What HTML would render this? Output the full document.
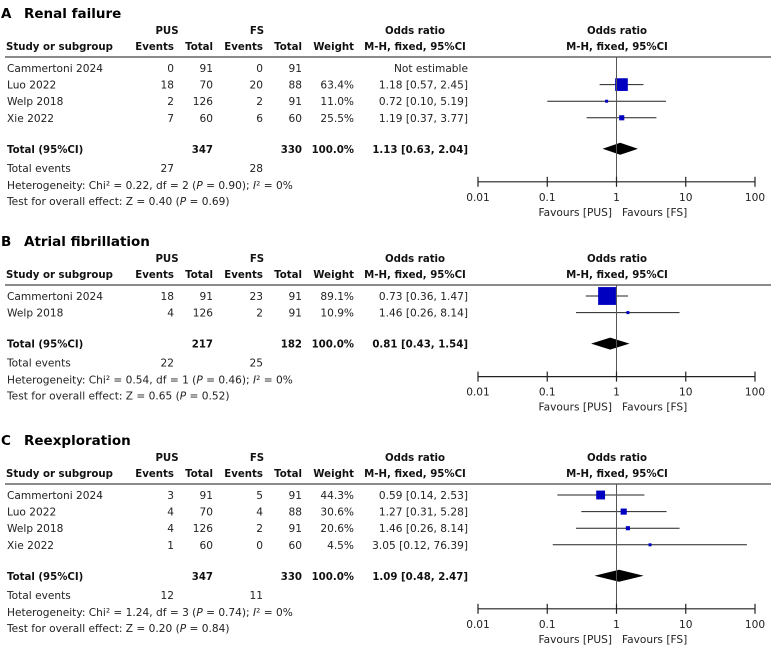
<!DOCTYPE html>
<html><head><meta charset="utf-8"><style>
html,body{margin:0;padding:0;background:#fff}
svg{display:block}
text{font-family:"DejaVu Sans","Liberation Sans",sans-serif;font-size:10.6px;fill:#222}
.b{font-weight:bold;fill:#111;font-size:10.2px}
.t{font-weight:bold;font-size:13.5px;fill:#000}
</style></head><body>
<svg id="fp" width="771" height="651" viewBox="0 0 771 651" xmlns="http://www.w3.org/2000/svg"></svg>
<script>
// ---- Data ----
const panelLetters = ["A","B","C"];
const panelTitles = ["Renal failure","Atrial fibrillation","Reexploration"];
const studiesA = ["Cammertoni 2024","Luo 2022","Welp 2018","Xie 2022"];
const pusEventsA = [0,18,2,7];
const pusTotalA = [91,70,126,60];
const fsEventsA = [0,20,2,6];
const fsTotalA = [91,88,91,60];
const weightsA = [null,63.4,11.0,25.5];
const orA = [null,1.18,0.72,1.19];
const loA = [null,0.57,0.10,0.37];
const hiA = [null,2.45,5.19,3.77];
const totalA = {pus:347, fs:330, or:1.13, lo:0.63, hi:2.04, pusEv:27, fsEv:28, chi:"0.22", df:2, p:"0.90", z:"0.40", pz:"0.69"};

const studiesB = ["Cammertoni 2024","Welp 2018"];
const pusEventsB = [18,4];
const pusTotalB = [91,126];
const fsEventsB = [23,2];
const fsTotalB = [91,91];
const weightsB = [89.1,10.9];
const orB = [0.73,1.46];
const loB = [0.36,0.26];
const hiB = [1.47,8.14];
const totalB = {pus:217, fs:182, or:0.81, lo:0.43, hi:1.54, pusEv:22, fsEv:25, chi:"0.54", df:1, p:"0.46", z:"0.65", pz:"0.52"};

const studiesC = ["Cammertoni 2024","Luo 2022","Welp 2018","Xie 2022"];
const pusEventsC = [3,4,4,1];
const pusTotalC = [91,70,126,60];
const fsEventsC = [5,4,2,0];
const fsTotalC = [91,88,91,60];
const weightsC = [44.3,30.6,20.6,4.5];
const orC = [0.59,1.27,1.46,3.05];
const loC = [0.14,0.31,0.26,0.12];
const hiC = [2.53,5.28,8.14,76.39];
const totalC = {pus:347, fs:330, or:1.09, lo:0.48, hi:2.47, pusEv:12, fsEv:11, chi:"1.24", df:3, p:"0.74", z:"0.20", pz:"0.84"};

const tickValues = [0.01,0.1,1,10,100];
const tickLabels = ["0.01","0.1","1","10","100"];

// ---- Drawing ----
const svg = document.getElementById('fp');
const NS = "http://www.w3.org/2000/svg";
const X0 = 478, DEC = 69.25;
function xs(v){ return X0 + (Math.log10(v) + 2) * DEC; }
function el(tag, attrs, parent){
  const e = document.createElementNS(NS, tag);
  for (const k in attrs) e.setAttribute(k, attrs[k]);
  (parent||svg).appendChild(e); return e;
}
function txt(g, x, y, s, anchor, cls, name){
  const e = el('text', {x:x, y:y, 'text-anchor':anchor||'start'}, g);
  if (cls) e.setAttribute('class', cls);
  
  
  e.innerHTML = s; return e;
}
const fmt2 = v => v.toFixed(2);

function panel(base, idx, studies, pe, pt, fe, ft, w, or, lo, hi, tot){
  const g = el('g', {});
  
  
  txt(g, 1, base+18, panelLetters[idx], 'start', 't', 'panel-letter');
  txt(g, 24, base+18, panelTitles[idx], 'start', 't', 'panel-title');
  txt(g, 167, base+34, 'PUS', 'middle', 'b', 'group-header-pus');
  txt(g, 257, base+34, 'FS', 'middle', 'b', 'group-header-fs');
  txt(g, 415, base+34, 'Odds ratio', 'middle', 'b', 'or-header');
  txt(g, 617, base+34, 'Odds ratio', 'middle', 'b', 'plot-header');
  const hy = base+50;
  txt(g, 6, hy, 'Study or subgroup', 'start', 'b', 'study-header');
  txt(g, 174, hy, 'Events', 'end', 'b', 'pus-events-header');
  txt(g, 213, hy, 'Total', 'end', 'b', 'pus-total-header');
  txt(g, 263, hy, 'Events', 'end', 'b', 'fs-events-header');
  txt(g, 302, hy, 'Total', 'end', 'b', 'fs-total-header');
  txt(g, 354, hy, 'Weight', 'end', 'b', 'weight-header');
  txt(g, 415, hy, 'M-H, fixed, 95%CI', 'middle', 'b', 'or-method-header');
  txt(g, 617, hy, 'M-H, fixed, 95%CI', 'middle', 'b', 'plot-method-header');
  const sep = el('line', {x1:5, x2:771, y1:base+57, y2:base+57, stroke:'#444', 'stroke-width':1.3}, g);
  
  
  studies.forEach((s, i) => {
    const cy = base + 68 + i*16.6;
    const ty = cy + 4;
    txt(g, 7, ty, s, 'start', null, 'study-name');
    txt(g, 174, ty, pe[i], 'end', null, 'pus-events');
    txt(g, 213, ty, pt[i], 'end', null, 'pus-total');
    txt(g, 263, ty, fe[i], 'end', null, 'fs-events');
    txt(g, 302, ty, ft[i], 'end', null, 'fs-total');
    if (w[i] != null){
      txt(g, 354, ty, w[i].toFixed(1) + '%', 'end', null, 'weight');
      txt(g, 468, ty, fmt2(or[i]) + ' [' + fmt2(lo[i]) + ', ' + fmt2(hi[i]) + ']', 'end', null, 'odds-ratio-ci');
      const ci = el('line', {x1:xs(lo[i]), x2:xs(hi[i]), y1:cy, y2:cy, stroke:'#222', 'stroke-width':1}, g);
      
      
      const sz = Math.max(3, 0.2*w[i]);
      const sq = el('rect', {x:xs(or[i])-sz/2, y:cy-sz/2, width:sz, height:sz, fill:'#0000c0'}, g);
      
      
    } else {
      txt(g, 468, ty, 'Not estimable', 'end', null, 'odds-ratio-ci');
    }
  });
  const ny = studies.length;
  const ty = base + 68 + (ny-1)*16.6 + 31;
  const tyT = ty + 4;
  txt(g, 7, tyT, 'Total (95%CI)', 'start', 'b', 'total-label');
  txt(g, 213, tyT, tot.pus, 'end', 'b', 'pus-total-sum');
  txt(g, 302, tyT, tot.fs, 'end', 'b', 'fs-total-sum');
  txt(g, 354, tyT, '100.0%', 'end', 'b', 'total-weight');
  txt(g, 468, tyT, fmt2(tot.or) + ' [' + fmt2(tot.lo) + ', ' + fmt2(tot.hi) + ']', 'end', 'b', 'total-odds-ratio');
  const d = el('polygon', {points: xs(tot.lo)+','+ty+' '+xs(tot.or)+','+(ty-6)+' '+xs(tot.hi)+','+ty+' '+xs(tot.or)+','+(ty+6), fill:'#000'}, g);
  
  
  txt(g, 7, ty+23, 'Total events', 'start', null, 'total-events-label');
  txt(g, 174, ty+23, tot.pusEv, 'end', null, 'pus-total-events');
  txt(g, 263, ty+23, tot.fsEv, 'end', null, 'fs-total-events');
  txt(g, 7, ty+40, 'Heterogeneity: Chi² = ' + tot.chi + ', df = ' + tot.df + ' (<tspan font-style="italic">P</tspan> = ' + tot.p + '); <tspan font-style="italic">I</tspan>² = 0%', 'start', null, 'heterogeneity-text');
  txt(g, 7, ty+56, 'Test for overall effect: Z = ' + tot.z + ' (<tspan font-style="italic">P</tspan> = ' + tot.pz + ')', 'start', null, 'overall-effect-text');
  const ay = ty + 33;
  const vl = el('line', {x1:xs(1), x2:xs(1), y1:base+57, y2:ay, stroke:'#555', 'stroke-width':1}, g);
  
  
  const ax = el('line', {x1:xs(tickValues[0]), x2:xs(tickValues[tickValues.length-1]), y1:ay, y2:ay, stroke:'#222', 'stroke-width':1.2}, g);
  
  
  tickValues.forEach((v, i) => {
    const tk = el('line', {x1:xs(v), x2:xs(v), y1:ay-5, y2:ay+5, stroke:'#222', 'stroke-width':1.2}, g);
    
    
    txt(g, xs(v), ay+19, tickLabels[i], 'middle', null, 'x-tick-label');
  });
  txt(g, 612, ay+34, 'Favours [PUS]', 'end', null, 'favours-pus-label');
  txt(g, 622, ay+34, 'Favours [FS]', 'start', null, 'favours-fs-label');
}
panel(0, 0, studiesA, pusEventsA, pusTotalA, fsEventsA, fsTotalA, weightsA, orA, loA, hiA, totalA);
panel(228, 1, studiesB, pusEventsB, pusTotalB, fsEventsB, fsTotalB, weightsB, orB, loB, hiB, totalB);
panel(427, 2, studiesC, pusEventsC, pusTotalC, fsEventsC, fsTotalC, weightsC, orC, loC, hiC, totalC);
</script>
</body></html>
